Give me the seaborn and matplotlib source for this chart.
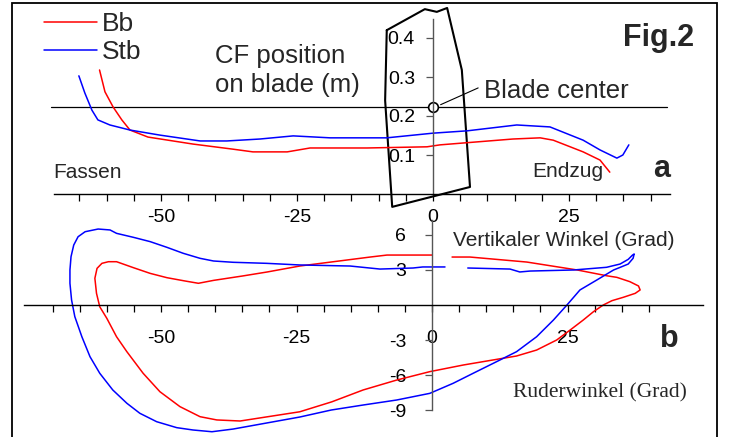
import numpy as np
import matplotlib
matplotlib.use("Agg")
import matplotlib.pyplot as plt
from matplotlib.patches import Rectangle
from matplotlib.ticker import MultipleLocator
import seaborn as sns

# panel a: centre of force position on blade (m) vs oar angle (deg)
bb_a_x = [-61.3, -60.3, -58.8, -57.2, -55.7, -52.4, -44.1, -36.8, -33.1, -26.8, -22.6,
          -12.1, -1.1, 1.3, 14.7, 19.7, 22.1, 27.6, 30.7, 32.5]
bb_a_y = [0.318, 0.262, 0.223, 0.190, 0.164, 0.146, 0.128, 0.115, 0.108, 0.108, 0.118,
          0.118, 0.121, 0.126, 0.141, 0.144, 0.138, 0.108, 0.087, 0.056]
stb_a_x = [-65.1, -64.0, -62.7, -61.6, -59.4, -55.7, -50.2, -42.8, -37.9, -31.8, -25.7,
           -18.9, -8.5, 0.0, 6.3, 15.4, 21.5, 27.6, 30.7, 33.8, 34.9, 36.0]
stb_a_y = [0.303, 0.259, 0.215, 0.190, 0.177, 0.164, 0.151, 0.136, 0.136, 0.141, 0.149,
           0.144, 0.144, 0.156, 0.162, 0.177, 0.172, 0.138, 0.113, 0.092, 0.100, 0.126]

# blade outline and blade centre (panel a units)
blade_x = [-8.5, -1.5, 0.7, 2.6, 5.3, 6.8, -7.5, -8.8, -8.5]
blade_y = [0.42, 0.474, 0.467, 0.477, 0.318, 0.018, -0.033, 0.24, 0.42]
center_y = 0.223

# panel b: vertical angle (deg) vs oar angle (deg), one loop per side
bb_b_x = [3.7, 7.0, 17.5, 26.8, 32.3, 34.1, 36.5, 38.1, 38.4, 37.5, 35.3, 33.2, 31.6,
          29.8, 27.9, 25.5, 23.0, 19.3, 15.6, 11.9, 5.8, -0.4, -6.5, -12.7, -18.5,
          -24.4, -35.4, -39.7, -42.8, -46.5, -50.2, -53.3, -56.3, -58.2, -60.0, -61.3,
          -61.9, -62.2, -61.8, -60.9, -59.7, -58.2, -55.1, -52.0, -48.9, -45.6, -43.1,
          -40.3, -34.9, -30.4, -24.4, -11.4, -8.3, 0.0]
bb_b_y = [4.11, 4.11, 3.68, 3.00, 2.50, 2.37, 2.00, 1.63, 1.29, 1.00, 0.66, 0.37, 0.00,
          -0.57, -1.29, -2.14, -3.00, -3.86, -4.37, -4.66, -5.14, -5.71, -6.43, -7.28,
          -8.30, -9.15, -9.94, -9.85, -9.57, -8.71, -7.43, -5.85, -4.00, -2.72, -1.14,
          -0.15, 1.00, 2.29, 3.14, 3.57, 3.71, 3.71, 3.20, 2.71, 2.34, 2.06, 1.86,
          2.11, 2.49, 2.83, 3.34, 4.11, 4.28, 4.28]
stb_b_x = [6.6, 14.4, 16.2, 18.1, 26.1, 32.2, 34.7, 36.2, 37.0, 37.3, 37.1, 36.2, 35.0,
           33.5, 30.4, 27.3, 24.9, 22.4, 19.3, 15.6, 11.9, 7.6, 3.9, -0.4, -6.5, -12.7,
           -18.6, -24.4, -36.7, -40.6, -44.1, -47.1, -50.8, -53.9, -56.3, -58.9, -61.3,
           -63.1, -64.6, -65.9, -66.5, -66.8, -66.8, -66.6, -66.1, -65.3, -64.0, -61.6,
           -59.4, -58.2, -55.1, -52.0, -48.9, -45.9, -42.8, -40.3, -36.7, -30.5, -24.4,
           -15.1, -9.6, -3.5, -1.7, 2.4]
stb_b_y = [3.17, 3.08, 2.83, 2.91, 3.00, 3.23, 3.51, 3.91, 4.28, 4.37, 4.00, 3.51, 3.28,
           3.00, 2.14, 1.29, 0.00, -1.29, -2.72, -4.00, -4.86, -5.85, -6.71, -7.57,
           -8.14, -8.57, -9.00, -9.60, -10.63, -10.86, -10.71, -10.51, -10.00, -9.28,
           -8.42, -7.28, -5.85, -4.43, -2.72, -1.00, 0.43, 1.86, 3.00, 4.14, 5.14, 5.85,
           6.28, 6.51, 6.43, 6.14, 5.80, 5.43, 4.94, 4.43, 4.00, 3.77, 3.66, 3.57, 3.43,
           3.34, 3.08, 3.17, 3.26, 3.26]

xticks_major = [-50, -25, 0, 25]
a_yticks = [0.1, 0.2, 0.3, 0.4]
b_yticks = [-9, -6, -3, 3, 6]

RED = "#ff0000"
BLUE = "#0000ff"
W, H = 737, 437

sns.set_theme(style="white")
plt.rcParams["font.family"] = ["Liberation Sans", "DejaVu Sans"]
plt.rcParams["axes.unicode_minus"] = False

fig = plt.figure(figsize=(W / 100, H / 100), dpi=100)
fig.patch.set_facecolor("white")


def fx(px):
    return px / W


def fy(py):
    return 1 - py / H


# panel a spans image rows 0..220, panel b rows 220..437
ax_a = fig.add_axes([0, fy(220), 1, 220 / H])
ax_b = fig.add_axes([0, 0, 1, 217 / H])

ax_a.set_xlim((0 - 433) / 5.44, (W - 433) / 5.44)
ax_a.set_ylim((194 - 220) / 390, 194 / 390)
ax_b.set_xlim((0 - 432) / 5.42, (W - 432) / 5.42)
ax_b.set_ylim((305 - 437) / 11.67, (305 - 220) / 11.67)

for ax in (ax_a, ax_b):
    ax.patch.set_alpha(0)
    ax.spines["top"].set_visible(False)
    ax.spines["right"].set_visible(False)
    ax.spines["bottom"].set_position(("data", 0))
    ax.spines["left"].set_position(("data", 0))
    ax.spines["bottom"].set_color("black")
    ax.spines["bottom"].set_linewidth(1.0)
    ax.spines["left"].set_color("#555555")
    ax.spines["left"].set_linewidth(1.0)
    ax.set_xticks(xticks_major)
    ax.set_xticklabels([str(t) for t in xticks_major])
    ax.tick_params(which="both", direction="out", length=5, width=0.9, colors="black",
                   labelsize=14, bottom=True, left=True)
    ax.tick_params(axis="y", which="both", color="#555555")
    ax.grid(False)

ax_a.spines["bottom"].set_bounds(-69.7, 43.5)
ax_a.spines["left"].set_bounds(0, 0.45)
ax_a.set_xticks([t for t in range(-65, 45, 5) if t not in xticks_major], minor=True)
ax_a.set_yticks(a_yticks)
ax_a.set_yticklabels([f"{t:.1f}" for t in a_yticks])
ax_a.tick_params(axis="x", pad=5.8)
ax_a.tick_params(axis="y", pad=8)

ax_b.spines["bottom"].set_bounds(-75.3, 50)
ax_b.spines["left"].set_bounds(-9, 7.3)
ax_b.set_xticks([t for t in range(-70, 45, 5) if t not in xticks_major], minor=True)
ax_b.set_yticks(b_yticks)
ax_b.set_yticklabels([str(t) for t in b_yticks])
ax_b.tick_params(axis="x", pad=13)
ax_b.tick_params(axis="y", pad=13.5)

# panel a
ax_a.plot(blade_x, blade_y, color="black", lw=1.5)
ax_a.plot([-70.2, 43.0], [center_y, center_y], color="black", lw=0.9)
sns.lineplot(x=bb_a_x, y=bb_a_y, sort=False, estimator=None, color=RED, lw=1.1,
             ax=ax_a, label="Bb")
sns.lineplot(x=stb_a_x, y=stb_a_y, sort=False, estimator=None, color=BLUE, lw=1.1,
             ax=ax_a, label="Stb")
ax_a.plot([0], [center_y], marker="o", ms=7, mfc="white", mec="black", mew=1.2)
ax_a.plot([1.4, 8.3], [0.229, 0.272], color="black", lw=0.8)

handles, labels = ax_a.get_legend_handles_labels()
ax_a.legend(handles, labels, loc="upper left", bbox_to_anchor=(fx(44), fy(12)),
            bbox_transform=fig.transFigure, frameon=False, fontsize=19,
            handlelength=2.0, handletextpad=0.2, labelspacing=0.17,
            borderpad=0, borderaxespad=0)

# panel b
sns.lineplot(x=bb_b_x, y=bb_b_y, sort=False, estimator=None, color=RED, lw=1.1,
             ax=ax_b, legend=False)
sns.lineplot(x=stb_b_x, y=stb_b_y, sort=False, estimator=None, color=BLUE, lw=1.1,
             ax=ax_b, legend=False)
for ax in (ax_a, ax_b):
    ax.set_xlabel("")
    ax.set_ylabel("")

# annotations
fig.text(fx(215), fy(63), "CF position", fontsize=18.5, va="baseline")
fig.text(fx(215), fy(92), "on blade (m)", fontsize=18.5, va="baseline")
fig.text(fx(623), fy(46), "Fig.2", fontsize=22, fontweight="bold", va="baseline")
fig.text(fx(484), fy(98), "Blade center", fontsize=18.5, va="baseline")
fig.text(fx(53), fy(178), "Fassen", fontsize=15, va="baseline")
fig.text(fx(532), fy(177), "Endzug", fontsize=15, va="baseline")
fig.text(fx(653), fy(177), "a", fontsize=22, fontweight="bold", va="baseline")
fig.text(fx(453), fy(246), "Vertikaler Winkel (Grad)", fontsize=15, va="baseline")
fig.text(fx(660), fy(347), "b", fontsize=22, fontweight="bold", va="baseline")
fig.text(fx(513), fy(397), "Ruderwinkel (Grad)", fontsize=15.5, va="baseline",
         family=["Liberation Serif", "DejaVu Serif"])

# outer frame
fig.patches.append(Rectangle((fx(12), -0.2), fx(717) - fx(12), fy(3) + 0.2,
                             transform=fig.transFigure, fill=False,
                             edgecolor="black", lw=1.3))

fig.savefig("out.png", dpi=100)
